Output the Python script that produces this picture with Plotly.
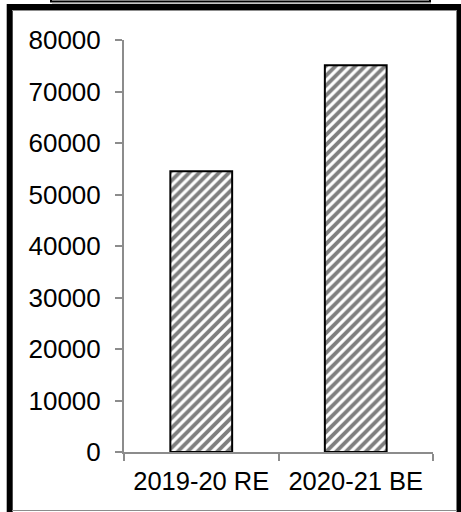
import plotly.graph_objects as go

# Budget figures by year (₹ crore)
categories = ["2019-20 RE", "2020-21 BE"]
values = [54500, 75100]
y_ticks = [0, 10000, 20000, 30000, 40000, 50000, 60000, 70000, 80000]

W, H = 461, 512
L, R, T, B = 124, 28, 40, 60
pw, ph = W - L - R, H - T - B


def px_x(x):
    return (x - L) / pw


def px_y(y):
    return (H - B - y) / ph


fig = go.Figure(
    go.Bar(
        x=categories,
        y=values,
        width=0.4,
        marker=dict(
            color="white",
            line=dict(color="black", width=2),
            pattern=dict(shape="/", fgcolor="black", bgcolor="white",
                         size=7, solidity=0.55),
        ),
    )
)

grey = "#8c8c8c"
family = "Liberation Sans, Arial, sans-serif"
yfont = dict(family=family, size=26, color="black")
xfont = dict(family=family, size=25.5, color="black")

fig.update_layout(
    width=W, height=H,
    margin=dict(l=L, r=R, t=T, b=B),
    paper_bgcolor="white", plot_bgcolor="white",
    showlegend=False,
    font=yfont,
    xaxis=dict(
        showline=True, linecolor=grey, linewidth=2,
        ticks="outside", tickson="boundaries", ticklen=7, tickcolor=grey,
        tickwidth=2, showgrid=False, tickfont=xfont, ticklabelstandoff=5,
    ),
    yaxis=dict(
        range=[0, 80000], tickvals=y_ticks,
        ticktext=[str(v) for v in y_ticks],
        showline=True, linecolor=grey, linewidth=2,
        ticks="outside", ticklen=7, tickcolor=grey, tickwidth=2,
        showgrid=False, zeroline=False, tickfont=yfont, ticklabelstandoff=9,
    ),
)

shapes = []
# outer frame: heavy black on left, top and right, thin grey along the bottom
shapes.append(dict(type="line", xref="paper", yref="paper",
                   x0=px_x(9.7), x1=px_x(9.7), y0=px_y(4), y1=px_y(512),
                   line=dict(color="black", width=6)))
shapes.append(dict(type="line", xref="paper", yref="paper",
                   x0=px_x(7), x1=px_x(461), y0=px_y(7), y1=px_y(7),
                   line=dict(color="black", width=6)))
shapes.append(dict(type="line", xref="paper", yref="paper",
                   x0=px_x(459.5), x1=px_x(459.5), y0=px_y(4), y1=px_y(512),
                   line=dict(color="black", width=6)))
shapes.append(dict(type="line", xref="paper", yref="paper",
                   x0=px_x(12), x1=px_x(457), y0=px_y(10.5), y1=px_y(10.5),
                   line=dict(color=grey, width=1)))
shapes.append(dict(type="line", xref="paper", yref="paper",
                   x0=px_x(12), x1=px_x(457), y0=px_y(510.5), y1=px_y(510.5),
                   line=dict(color=grey, width=1)))
# lower edge of the title box above the chart
shapes.append(dict(type="rect", xref="paper", yref="paper",
                   x0=px_x(51), x1=px_x(430), y0=px_y(-10), y1=px_y(1.5),
                   line=dict(color="black", width=2)))
shapes.append(dict(type="line", xref="paper", yref="paper",
                   x0=px_x(52), x1=px_x(431), y0=px_y(3), y1=px_y(3),
                   line=dict(color=grey, width=1)))

fig.update_layout(shapes=shapes)

fig.write_html("out.html")
